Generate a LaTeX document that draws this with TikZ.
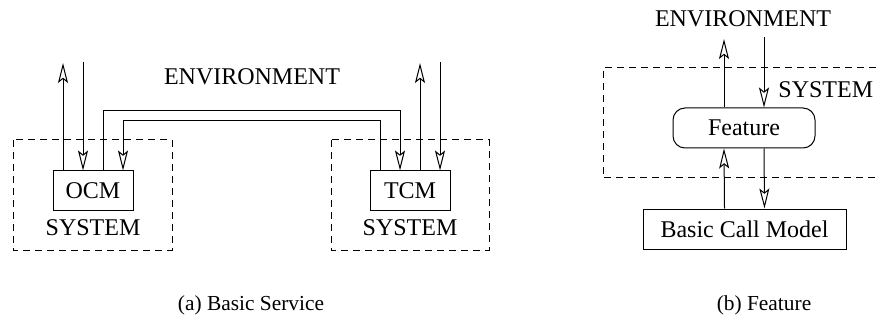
\documentclass[tikz,border=0pt]{standalone}
\usepackage{fontspec}
\setmainfont{Liberation Serif}
\usepackage{tikz}
\usetikzlibrary{positioning,arrows.meta,calc}

\tikzset{
  module/.style={draw, line width=0.5pt, inner sep=0pt, minimum height=19.5pt},
  sysline/.style={draw, line width=0.5pt, dash pattern=on 3.5pt off 2.5pt},
  sig/.style={draw, line width=0.5pt, -{Stealth[open, length=10pt, width=5pt, inset=2pt]}},
}

\begin{document}
\begin{tikzpicture}[x=0.5pt, y=-0.5pt, font=\fontsize{12}{14}\selectfont]

  \useasboundingbox (0,0) rectangle (876,320);

  % (a) basic service
  \draw[sysline] (13,140) rectangle (172,250);
  \draw[sysline] (331,140) rectangle (489,250);

  \node[] (ocm) [module, minimum width=40pt] at (93,190.5) {OCM};
  \node[] (sysa) [below=1pt of ocm] {SYSTEM};
  \node[] (tcm) [module, minimum width=40pt] at (410,190.5) {TCM};
  \node[] (sysb) [below=1pt of tcm] {SYSTEM};
  \node[] (enva) at (252,77) {ENVIRONMENT};

  \coordinate (ocmout) at (63,63);
  \coordinate (ocmin) at (83,62);
  \coordinate (tcmout) at (420,63);
  \coordinate (tcmin) at (440,62);

  \path[sig] ([xshift=-15pt]ocm.north) -- (ocmout);
  \path[sig] (ocmin) -- ([xshift=-5pt]ocm.north);
  \path[sig] ([xshift=5pt]tcm.north) -- (tcmout);
  \path[sig] (tcmin) -- ([xshift=15pt]tcm.north);

  \path[sig] ([xshift=5pt]ocm.north) -- ++(0,-60) -| ([xshift=-5pt]tcm.north);
  \path[sig] ([xshift=-15pt]tcm.north) -- ++(0,-50) -| ([xshift=15pt]ocm.north);

  \node[] (capa) at (251,305) {\fontsize{10.7}{13}\selectfont (a) Basic Service};

  % (b) feature
  \draw[sysline] (876,68) -- (603,68) -- (603,178) -- (876,178);

  \node[] (feat) [module, rounded corners=6pt, minimum width=71pt, minimum height=20pt] at (744,128) {Feature};
  \node[] (bcm) [module, minimum width=101.5pt, minimum height=20pt] at (744.5,229) {Basic Call Model};
  \node[] (envb) at (743,19) {ENVIRONMENT};
  \node[] (sysc) [anchor=west, inner sep=0pt] at (778,90) {SYSTEM};

  \coordinate (featout) at (724,39);
  \coordinate (featin) at (764,37);

  \path[sig] ([xshift=-10pt]feat.north) -- (featout);
  \path[sig] (featin) -- ([xshift=10pt]feat.north);
  \path[sig] ([xshift=-10pt]bcm.north) -- ([xshift=-10pt]feat.south);
  \path[sig] ([xshift=10pt]feat.south) -- ([xshift=10pt]bcm.north);

  \node[] (capb) at (764,305) {\fontsize{10.7}{13}\selectfont (b) Feature};

\end{tikzpicture}
\end{document}
